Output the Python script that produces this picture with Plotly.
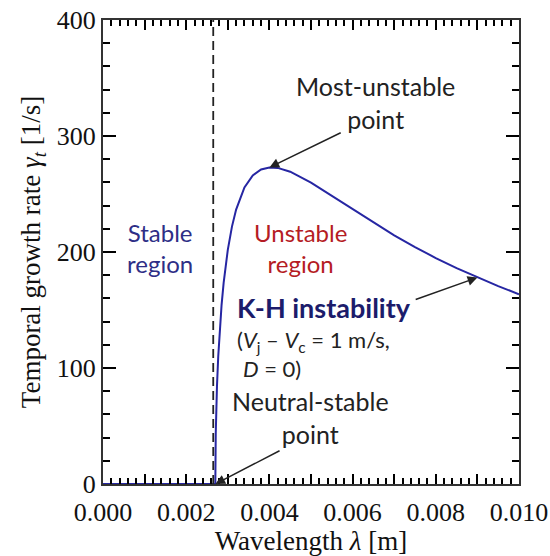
import plotly.graph_objects as go

# Wavelength lambda [m] and temporal growth rate gamma_t [1/s]
wavelength = [0.0, 0.0010, 0.0020, 0.0027, 0.00271, 0.00272, 0.00274, 0.00277, 0.0028,
              0.00285, 0.0029, 0.0030, 0.0031, 0.0032, 0.0034, 0.0036, 0.0038,
              0.0040, 0.0042, 0.0045, 0.0050, 0.0055, 0.0060, 0.0065, 0.0070,
              0.0075, 0.0080, 0.0085, 0.0090, 0.0095, 0.0100]
growth_rate = [0.0, 0.0, 0.0, 0.0, 42.9, 60.4, 84.5, 109.9, 129.3,
               154.2, 173.4, 201.9, 221.9, 236.6, 255.6, 266.0, 271.2,
               272.9, 272.5, 269.2, 259.8, 248.4, 236.7, 225.3, 214.4,
               204.3, 194.8, 186.1, 178.0, 170.6, 163.6]

neutral_wavelength = 0.00265   # dashed boundary line
hidden_x_labels = ["0.001", "0.003", "0.005", "0.007", "0.009"]

CURVE = "#2626a3"
NAVY = "#2e2e86"
RED = "#b51c24"
KH = "#1c1c6b"
SANS = "Lato, 'Open Sans', sans-serif"
SERIF = "'Liberation Serif', 'Times New Roman', serif"

fig = go.Figure()
fig.add_trace(go.Scatter(x=wavelength, y=growth_rate, mode="lines",
                         line=dict(color=CURVE, width=2), showlegend=False))
fig.add_trace(go.Scatter(x=[neutral_wavelength, neutral_wavelength], y=[0, 400], mode="lines",
                         line=dict(color="#222", width=1.8, dash="9px,5px"), showlegend=False))

peak_i = growth_rate.index(max(growth_rate))
neutral_i = 3
kh_i = wavelength.index(0.0090)

ann = []
def txt(x, y, text, color="#222", size=25, xanchor="center", yanchor="middle", align="center"):
    ann.append(dict(x=x, y=y, xref="x", yref="y", text=text, showarrow=False,
                    font=dict(family=SANS, size=size, color=color),
                    xanchor=xanchor, yanchor=yanchor, align=align))

def arrow(tip_i, ax, ay):
    ann.append(dict(x=wavelength[tip_i], y=growth_rate[tip_i], xref="x", yref="y",
                    ax=ax, ay=ay, axref="x", ayref="y", text="", showarrow=True,
                    arrowhead=2, arrowsize=1.3, arrowwidth=1.5, arrowcolor="#222"))

txt(0.00655, 328.5, "Most-unstable<br>point")
arrow(peak_i, 0.00575, 303.4)
txt(0.00137, 203.5, "Stable<br>region", color=NAVY, size=24)
txt(0.00474, 203.5, "Unstable<br>region", color=RED, size=24)
txt(0.00317, 152.5, "<b>K-H instability</b>", color=KH, size=27, xanchor="left")
txt(0.00317, 123.0, "(<i>V</i><sub>j</sub> – <i>V</i><sub>c</sub> = 1 m/s,", size=22, xanchor="left")
txt(0.00332, 100.0, "<i>D</i> = 0)", size=22, xanchor="left")
arrow(kh_i, 0.00748, 158.6)
txt(0.00498, 57.5, "Neutral-stable<br>point")
arrow(neutral_i, 0.00428, 29.3)

axis_common = dict(showline=True, linecolor="#333", linewidth=2, mirror="allticks",
                   ticks="inside", tickcolor="black", tickwidth=2, showgrid=False,
                   zeroline=False, automargin=False, layer="above traces",
                   tickfont=dict(family=SERIF, size=26, color="#111"))

fig.update_layout(
    width=550, height=556,
    margin=dict(l=103, r=31, t=20, b=72),
    paper_bgcolor="white", plot_bgcolor="white",
    annotations=ann,
    xaxis=dict(range=[0, 0.010], tickmode="linear", tick0=0, dtick=0.001, tickformat=".3f",
               labelalias={k: " " for k in hidden_x_labels}, ticklen=10, ticklabelstandoff=4,
               minor=dict(tickmode="linear", dtick=0.0002, ticklen=6, ticks="inside",
                          tickcolor="black", tickwidth=1.5, showgrid=False),
               title=dict(text="Wavelength <i>λ</i> [m]", font=dict(family=SERIF, size=27, color="#111"),
                          standoff=4),
               **axis_common),
    yaxis=dict(range=[0, 400], tickmode="linear", tick0=0, dtick=100, ticklen=13,
               minor=dict(tickmode="linear", dtick=20, ticklen=7, ticks="inside",
                          tickcolor="black", tickwidth=1.5, showgrid=False),
               title=dict(text="Temporal growth rate <i>γ</i><sub><i>t</i></sub> [1/s]",
                          font=dict(family=SERIF, size=27, color="#111"), standoff=8),
               **axis_common),
)

fig.write_html("out.html")
